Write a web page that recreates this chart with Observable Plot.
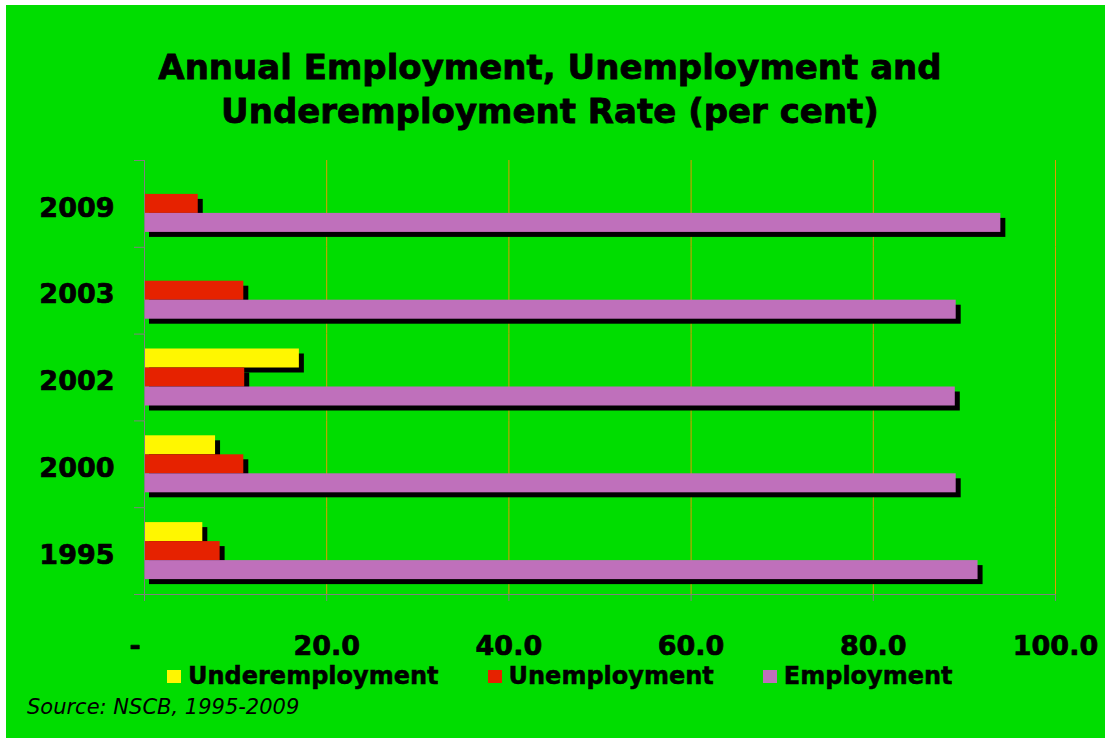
<!DOCTYPE html>
<html><head><meta charset="utf-8">
<script src="https://cdn.jsdelivr.net/npm/d3@7"></script>
<script src="https://cdn.jsdelivr.net/npm/@observablehq/plot@0.6"></script>
<style>
body{margin:0;background:#fff;}
#wrap{position:relative;width:1109px;height:742px;overflow:hidden;background:#fff;}
#bg{position:absolute;left:6px;top:5px;width:1099px;height:733px;background:#00dd00;}
#title{position:absolute;left:0;top:45px;width:1100px;text-align:center;font-family:"DejaVu Sans";font-weight:bold;font-size:34px;line-height:44px;color:#000;-webkit-text-stroke:0.8px #000;}
#chart{position:absolute;left:0;top:0;}
#legend{position:absolute;left:167px;top:664px;display:flex;gap:49px;font-family:"DejaVu Sans";font-weight:bold;font-size:24px;line-height:24px;color:#000;white-space:nowrap;-webkit-text-stroke:0.5px #000;}
.item{display:flex;align-items:center;}
.sw{width:14px;height:13px;margin-right:7px;}
#source{position:absolute;left:27px;top:697px;font-family:"DejaVu Sans";font-style:italic;font-size:21px;line-height:21px;color:#000;white-space:nowrap;}
</style></head>
<body>
<div id="wrap">
  <div id="bg"></div>
  <div id="title">Annual Employment, Unemployment and<br>Underemployment Rate (per cent)</div>
  <div id="chart"></div>
  <div id="legend"></div>
  <div id="source">Source: NSCB, 1995-2009</div>
</div>
<script>
// ---- data ----
const years = ["2009", "2003", "2002", "2000", "1995"];
const seriesNames = ["Underemployment", "Unemployment", "Employment"];
const underemployment = [null, null, 17.0, 7.8, 6.4];
const unemployment = [5.9, 10.9, 11.0, 10.9, 8.3];
const employment = [94.0, 89.1, 89.0, 89.1, 91.5];
const xTicks = [0, 20, 40, 60, 80, 100];
const xTickLabels = ["-", "20.0", "40.0", "60.0", "80.0", "100.0"];
const seriesColors = ["#fff700", "#e62200", "#bf70bb"];

const seriesValues = [underemployment, unemployment, employment];
const rows = [];
years.forEach((year, i) => {
  seriesNames.forEach((s, j) => {
    const v = seriesValues[j][i];
    if (v != null) rows.push({year, series: s, value: v});
  });
});

const font = "DejaVu Sans";
const gray = "#808080";

const chart = Plot.plot({
  width: 1109,
  height: 742,
  marginLeft: 144,
  marginRight: 54,
  marginTop: 160,
  marginBottom: 148,
  style: {background: "transparent", overflow: "visible"},
  x: {domain: [0, 100]},
  fy: {domain: years, padding: 0, round: false},
  y: {domain: seriesNames, paddingInner: 0, paddingOuter: 0.784, round: false, axis: null},
  color: {domain: seriesNames, range: seriesColors},
  marks: [
    Plot.ruleX(xTicks.slice(1), {stroke: "#e09a00", strokeWidth: 1}),
    Plot.barX(rows, {fy: "year", y: "series", x: "value", fill: "black", dx: 5, dy: 5}),
    Plot.barX(rows, {fy: "year", y: "series", x: "value", fill: "series"}),
    Plot.ruleX([0], {stroke: gray}),
    Plot.frame({anchor: "bottom", facetAnchor: "bottom", stroke: gray, insetLeft: -10}),
    Plot.axisFy({anchor: "left", tickSize: 0, tickPadding: 30, fontSize: 27, fontWeight: "bold",
      fontFamily: font, fill: "black", textStroke: "black", textStrokeWidth: 0.7, dy: 4, label: null}),
    Plot.axisFy({anchor: "left", tickSize: 10, tickFormat: () => "", stroke: gray,
      dy: -(594 - 160) / years.length / 2, label: null}),
    Plot.axisX({ticks: xTicks, tickSize: 7, tickPadding: 34, stroke: gray, fill: "black",
      textStroke: "black", textStrokeWidth: 0.7,
      tickFormat: d => { const t = xTickLabels[xTicks.indexOf(d)]; return t === "-" ? "-\u2002\u2009" : t; },
      fontSize: 27, fontWeight: "bold", fontFamily: font, label: null})
  ]
});
document.getElementById("chart").appendChild(chart);

const legend = document.getElementById("legend");
seriesNames.forEach((s, i) => {
  const item = document.createElement("div");
  item.className = "item";
  const sw = document.createElement("span");
  sw.className = "sw";
  sw.style.background = seriesColors[i];
  const label = document.createElement("span");
  label.textContent = s;
  item.appendChild(sw);
  item.appendChild(label);
  legend.appendChild(item);
});
</script>
</body></html>
